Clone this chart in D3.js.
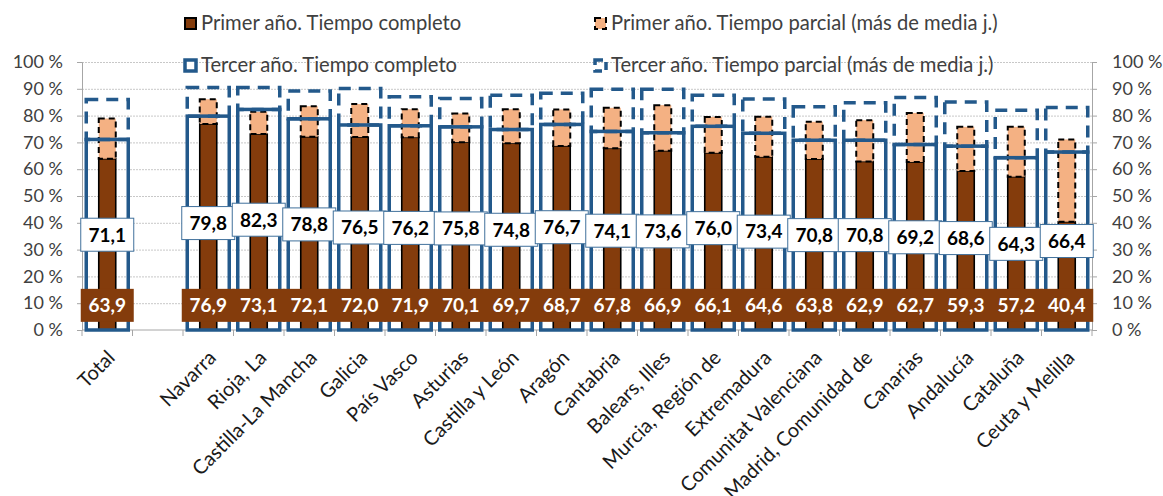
<!DOCTYPE html>
<html>
<head>
<meta charset="utf-8">
<script src="https://cdn.jsdelivr.net/npm/d3@7"></script>
<style>
  body { margin: 0; background: #fff; }
  text { font-family: Lato, "Open Sans", sans-serif; }
</style>
</head>
<body>
<div id="chart"></div>
<script>
const width = 1163;
const height = 496;

// categories ("" is the empty slot after Total)
const categories = ["Total", "", "Navarra", "Rioja, La", "Castilla-La Mancha", "Galicia", "País Vasco",
  "Asturias", "Castilla y León", "Aragón", "Cantabria", "Balears, Illes", "Murcia, Región de",
  "Extremadura", "Comunitat Valenciana", "Madrid, Comunidad de", "Canarias", "Andalucía",
  "Cataluña", "Ceuta y Melilla"];
const regions = categories.filter(c => c !== "");

const primerCompleto = [63.9, 76.9, 73.1, 72.1, 72.0, 71.9, 70.1, 69.7, 68.7, 67.8, 66.9, 66.1, 64.6, 63.8, 62.9, 62.7, 59.3, 57.2, 40.4];
const primerParcial  = [15.0, 9.2, 8.3, 11.4, 12.3, 10.5, 10.7, 12.7, 13.6, 15.1, 17.0, 13.4, 15.0, 13.9, 15.4, 18.3, 16.5, 18.6, 30.7];
const tercerCompleto = [71.1, 79.8, 82.3, 78.8, 76.5, 76.2, 75.8, 74.8, 76.7, 74.1, 73.6, 76.0, 73.4, 70.8, 70.8, 69.2, 68.6, 64.3, 66.4];
const tercerParcial  = [14.9, 10.7, 8.2, 10.4, 13.6, 10.8, 10.6, 12.8, 11.6, 15.7, 16.2, 11.6, 12.8, 12.5, 14.0, 17.6, 16.5, 17.7, 16.6];

const yTicks = [0, 10, 20, 30, 40, 50, 60, 70, 80, 90, 100];

const legendItems = ["Primer año. Tiempo completo", "Primer año. Tiempo parcial (más de media j.)",
  "Tercer año. Tiempo completo", "Tercer año. Tiempo parcial (más de media j.)"];

const data = regions.map((name, i) => ({
  name: name,
  p1: primerCompleto[i], p2: primerParcial[i],
  t1: tercerCompleto[i], t2: tercerParcial[i]
}));

const brown = "#843C0C";
const peach = "#F4B183";
const blue = "#23598B";
const grey = "#404040";

const margin = {left: 82, right: 71, top: 62, bottom: 166};

const svg = d3.select("#chart").append("svg")
  .attr("width", width)
  .attr("height", height);

const x = d3.scaleBand()
  .domain(categories)
  .range([margin.left, width - margin.right])
  .padding(0);

const y = d3.scaleLinear()
  .domain([0, 100])
  .range([height - margin.bottom, margin.top]);

const cx = d => x(d.name) + x.bandwidth() / 2;

/// grid lines ///
svg.append("g")
  .selectAll("line")
  .data(yTicks.filter(t => t > 0))
  .join("line")
  .attr("x1", margin.left)
  .attr("x2", width - margin.right)
  .attr("y1", d => y(d) + 0.5)
  .attr("y2", d => y(d) + 0.5)
  .style("stroke", "#c8c8c8")
  .style("stroke-dasharray", "2,1");

/// axes ///
const yLeft = d3.axisLeft(y).tickValues(yTicks).tickSize(5).tickFormat(d => d + " %");
const yRight = d3.axisRight(y).tickValues(yTicks).tickSize(5).tickFormat(d => d + " %");

const gl = svg.append("g").attr("transform", `translate(${margin.left},0)`).call(yLeft);
const gr = svg.append("g").attr("transform", `translate(${width - margin.right},0)`).call(yRight);
[gl, gr].forEach(g => {
  g.select(".domain").style("stroke", "#a6a6a6");
  g.selectAll(".tick line").style("stroke", "#a6a6a6");
  g.selectAll(".tick text")
    .style("font-size", "18px")
    .style("fill", grey)
    .style("font-family", "Lato, sans-serif");
});
gl.selectAll(".tick text").attr("x", -19);
gr.selectAll(".tick text").attr("x", 20);

// category axis
const xAxis = svg.append("g").attr("transform", `translate(0,${y(0)})`);
xAxis.append("line")
  .attr("x1", margin.left).attr("x2", width - margin.right)
  .style("stroke", "#a6a6a6");
xAxis.selectAll(".cat-tick")
  .data(categories.concat(["end"]))
  .join("line")
  .attr("class", "cat-tick")
  .attr("x1", (d, i) => margin.left + i * x.bandwidth())
  .attr("x2", (d, i) => margin.left + i * x.bandwidth())
  .attr("y1", 0).attr("y2", 6)
  .style("stroke", "#a6a6a6");
xAxis.selectAll(".cat-label")
  .data(categories.filter(c => c !== ""))
  .join("text")
  .attr("class", "cat-label")
  .attr("transform", d => `translate(${x(d) + x.bandwidth() / 2 + 4},${24}) rotate(-45)`)
  .attr("text-anchor", "end")
  .attr("dy", "0.35em")
  .style("font-size", "20px")
  .style("fill", "#1a1a1a")
  .text(d => d);

/// Primer año bars (narrow) ///
const narrow = 17;
const bars = svg.append("g");
bars.selectAll(".p1")
  .data(data)
  .join("rect")
  .attr("x", d => cx(d) - narrow / 2)
  .attr("width", narrow)
  .attr("y", d => y(d.p1))
  .attr("height", d => y(0) - y(d.p1))
  .style("fill", brown)
  .style("stroke", "#000")
  .style("stroke-width", 1.6);

bars.selectAll(".p2")
  .data(data)
  .join("rect")
  .attr("x", d => cx(d) - narrow / 2)
  .attr("width", narrow)
  .attr("y", d => y(d.p1 + d.p2))
  .attr("height", d => y(d.p1) - y(d.p1 + d.p2))
  .style("fill", peach)
  .style("stroke", "#000")
  .style("stroke-width", 2)
  .style("stroke-dasharray", "6,4");

/// Tercer año bars (wide outlines) ///
const wide = 42;
bars.selectAll(".t1")
  .data(data)
  .join("rect")
  .attr("x", d => cx(d) - wide / 2)
  .attr("width", wide)
  .attr("y", d => y(d.t1))
  .attr("height", d => y(0) - y(d.t1))
  .style("fill", "none")
  .style("stroke", blue)
  .style("stroke-width", 3.5);

bars.selectAll(".t2")
  .data(data)
  .join("rect")
  .attr("x", d => cx(d) - wide / 2)
  .attr("width", wide)
  .attr("y", d => y(d.t1 + d.t2))
  .attr("height", d => y(d.t1) - y(d.t1 + d.t2))
  .style("fill", "none")
  .style("stroke", blue)
  .style("stroke-width", 3.5)
  .style("stroke-dasharray", "12,8");

/// labels ///
const boxW = 53, boxH = 33;
const labels = svg.append("g");

// tercer completo labels: white boxes at bar centre
const tl = labels.selectAll(".tl")
  .data(data)
  .join("g")
  .attr("transform", d => `translate(${cx(d)},${y(d.t1 / 2)})`);
tl.append("rect")
  .attr("x", -boxW / 2).attr("y", -boxH / 2)
  .attr("width", boxW).attr("height", boxH)
  .style("fill", "#fff")
  .style("stroke", "#41719C")
  .style("stroke-width", 1);
tl.append("text")
  .attr("text-anchor", "middle")
  .attr("dy", "0.36em")
  .style("font-size", "19px")
  .style("font-weight", "bold")
  .style("fill", "#000")
  .text(d => d3.format(".1f")(d.t1).replace(".", ","));

// primer completo labels: brown boxes near the base
const pl = labels.selectAll(".pl")
  .data(data)
  .join("g")
  .attr("transform", d => `translate(${cx(d)},${y(9.2)})`);
pl.append("rect")
  .attr("x", -boxW / 2).attr("y", -boxH / 2)
  .attr("width", boxW).attr("height", boxH)
  .style("fill", brown);
pl.append("text")
  .attr("text-anchor", "middle")
  .attr("dy", "0.36em")
  .style("font-size", "19px")
  .style("font-weight", "bold")
  .style("fill", "#fff")
  .text(d => d3.format(".1f")(d.p1).replace(".", ","));

/// legend ///
const legendPos = [[184, 17], [594, 17], [184, 59], [594, 59]];
const lg = svg.append("g")
  .selectAll("g")
  .data(legendItems)
  .join("g")
  .attr("transform", (d, i) => `translate(${legendPos[i][0]},${legendPos[i][1]})`);

lg.append("rect")
  .attr("width", 11).attr("height", 11)
  .attr("x", 1).attr("y", 1)
  .style("fill", (d, i) => [brown, peach, "#fff", "none"][i])
  .style("stroke", (d, i) => i < 2 ? "#000" : blue)
  .style("stroke-width", (d, i) => i < 2 ? 2 : 3.5)
  .style("stroke-dasharray", (d, i) => i === 1 ? "6,4" : i === 3 ? "8,5" : null);

lg.append("text")
  .attr("x", 17)
  .attr("y", 13)
  .style("font-size", "20.2px")
  .style("fill", grey)
  .text(d => d);
</script>
</body>
</html>
